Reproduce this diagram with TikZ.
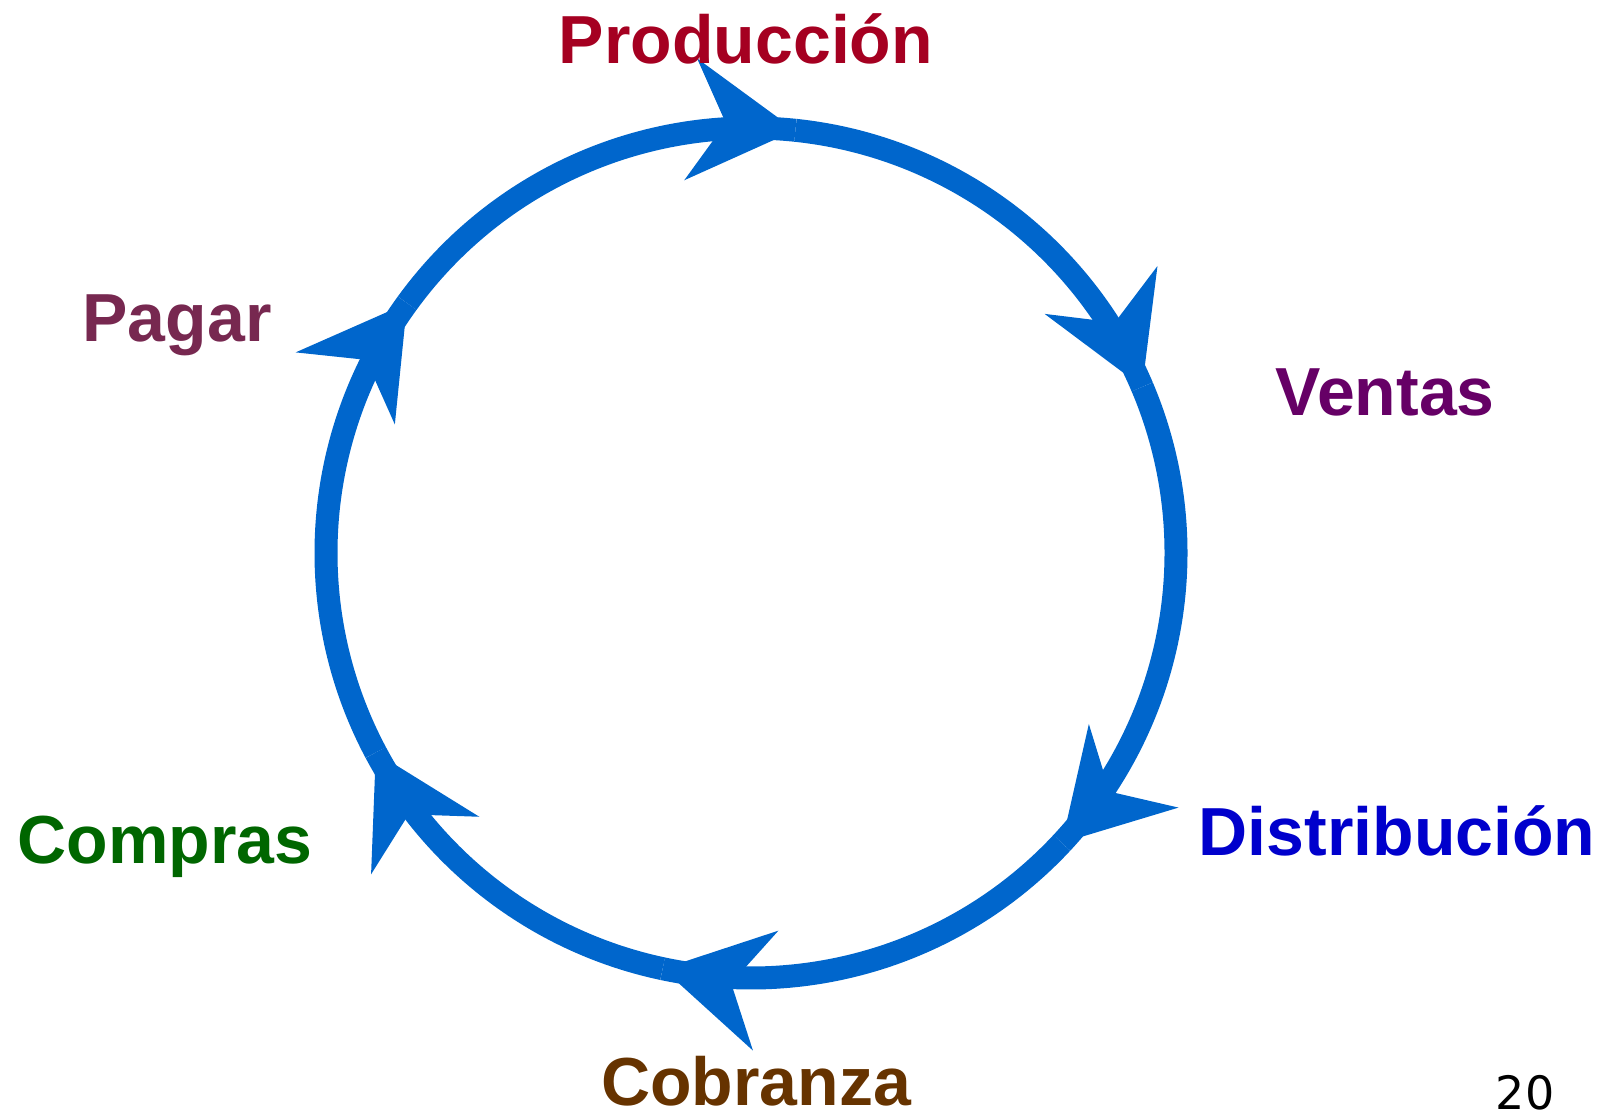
\documentclass[tikz,border=0pt]{standalone}
\usepackage{fontspec}
\setmainfont{Liberation Sans}
\newfontfamily\numfont{DejaVu Sans}
\usetikzlibrary{arrows.meta,calc}
\definecolor{ciclo}{HTML}{0066CC}
\definecolor{rojo}{HTML}{A50021}
\definecolor{morado}{HTML}{660066}
\definecolor{azul}{HTML}{0000CC}
\definecolor{cafe}{HTML}{663300}
\definecolor{verde}{HTML}{006600}
\definecolor{vino}{HTML}{772850}
\begin{document}
\begin{tikzpicture}[x=0.5pt,y=0.5pt]
        \tikzstyle{every node}=[font=\bfseries\fontsize{34}{40}\selectfont, anchor=base, inner sep=0pt]
        \tikzstyle{linea}=[draw=ciclo, line width=11.5pt]
        \tikzstyle{punta}=[linea, -{Stealth[length=52pt,width=60pt,inset=17pt]}]
        \useasboundingbox (0,0) rectangle (1612,1118);
        \coordinate (c) at (751,565);
        \foreach \n/\a in {pr/84, ve/23, di/-43, co/-102, cm/-152, pa/144} \coordinate (\n) at ($(c)+(\a:212.5pt)$);
        % ciclo
        \draw[linea] (pa) arc[start angle=144, end angle=84, radius=212.5pt];
        \draw[linea] (pr) arc[start angle=84, end angle=23, radius=212.5pt];
        \draw[linea] (ve) arc[start angle=23, end angle=-43, radius=212.5pt];
        \draw[linea] (di) arc[start angle=-43, end angle=-102, radius=212.5pt];
        \draw[linea] (co) arc[start angle=-102, end angle=-152, radius=212.5pt];
        \draw[linea] (cm) arc[start angle=-152, end angle=-216, radius=212.5pt];
        \foreach \n in {pr, ve, di, co, cm, pa} \draw[punta] ($(\n)!36pt!-90:(c)$) -- (\n);
        % etiquetas
        \node[text=rojo] (produccion) at (746,1054) {Producción};
        \node[text=morado] (ventas) at (1385,702) {Ventas};
        \node[text=azul] (distribucion) at (1397,262) {Distribución};
        \node[text=cafe] (cobranza) at (756,12) {Cobranza};
        \node[font=\numfont\fontsize{23}{28}\selectfont] (pagina) at (1525,8) {20};
        \node[text=verde] (compras) at (165,254) {Compras};
        \node[text=vino] (pagar) at (177,776) {Pagar};
\end{tikzpicture}
\end{document}
